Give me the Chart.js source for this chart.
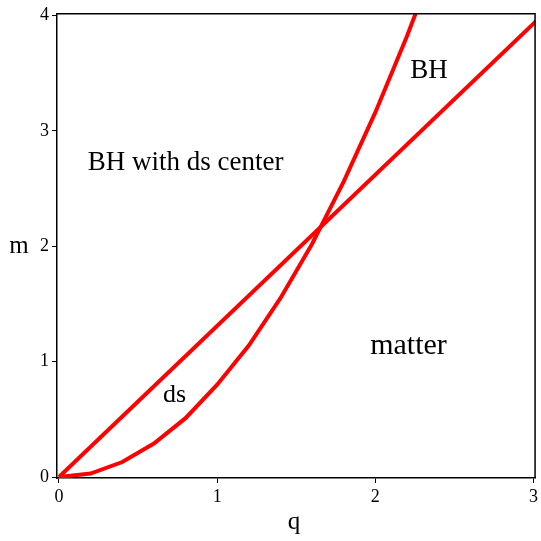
<!DOCTYPE html>
<html>
<head>
<meta charset="utf-8">
<script src="https://cdn.jsdelivr.net/npm/chart.js@4/dist/chart.umd.min.js"></script>
<style>
  html, body { margin: 0; padding: 0; background: #fff; }
  #wrap { width: 541px; height: 541px; }
</style>
</head>
<body>
<div id="wrap"><canvas id="chart"></canvas></div>
<script>
// straight boundary m(q)
const lineQ = [0, 3.1];
const lineM = [0, 4.06];

// curved boundary m(q), sampled every 0.2 in q
const curveQ = [0, 0.2, 0.4, 0.6, 0.8, 1.0, 1.2, 1.4, 1.6, 1.8, 2.0, 2.2, 2.4];
const curveM = [0, 0.03, 0.13, 0.29, 0.51, 0.80, 1.14, 1.55, 2.02, 2.56, 3.16, 3.82, 4.54];

const xTicks = [0, 1, 2, 3];
const yTicks = [0, 1, 2, 3, 4];

// region labels placed in data coordinates (text baseline)
const regionText = ['BH with ds center', 'BH', 'matter', 'ds'];
const regionQ = [0.80, 2.34, 2.21, 0.73];
const regionM = [2.66, 3.46, 1.07, 0.65];
const regionSize = [27, 27, 30, 26];

const serif = '"Liberation Serif", "Times New Roman", serif';
const red = 'rgb(255, 0, 0)';

const toPoints = (xs, ys) => xs.map((x, i) => ({ x: x, y: ys[i] }));

const labelsPlugin = {
    id: 'regionLabels',
    afterDatasetsDraw(chart) {
        const ctx = chart.ctx;
        const area = chart.chartArea;
        const xs = chart.scales.x;
        const ys = chart.scales.y;
        ctx.save();

        // top and right sides of the frame
        ctx.strokeStyle = '#000';
        ctx.lineWidth = 1.5;
        ctx.beginPath();
        ctx.moveTo(area.left, area.top);
        ctx.lineTo(area.right, area.top);
        ctx.lineTo(area.right, area.bottom);
        ctx.stroke();

        ctx.fillStyle = '#000';
        ctx.textAlign = 'center';
        ctx.textBaseline = 'alphabetic';
        regionText.forEach((t, i) => {
            ctx.font = regionSize[i] + 'px ' + serif;
            ctx.fillText(t, xs.getPixelForValue(regionQ[i]), ys.getPixelForValue(regionM[i]));
        });

        // axis titles
        ctx.font = '25px ' + serif;
        ctx.fillText('q', (area.left + area.right) / 2 - 2, 529);
        ctx.fillText('m', 19, 253);
        ctx.restore();
    }
};

new Chart(document.getElementById('chart'), {
    type: 'line',
    data: {
        datasets: [
            {
                label: 'line',
                data: toPoints(lineQ, lineM),
                borderColor: red,
                borderWidth: 4,
                pointRadius: 0,
                tension: 0,
            },
            {
                label: 'curve',
                data: toPoints(curveQ, curveM),
                borderColor: red,
                borderWidth: 4,
                pointRadius: 0,
                tension: 0,
            }
        ]
    },
    options: {
        responsive: true,
        maintainAspectRatio: false,
        animation: false,
        layout: {
            padding: { top: 10, right: 4, left: 0, bottom: 0 }
        },
        plugins: {
            legend: { display: false },
            tooltip: { enabled: false }
        },
        scales: {
            x: {
                type: 'linear',
                min: -0.0126,
                max: 3.01,
                afterBuildTicks: (scale) => {
                    scale.ticks = xTicks.map(v => ({ value: v }));
                },
                afterFit: (scale) => {
                    scale.height = 63;
                },
                grid: {
                    drawOnChartArea: false,
                    drawTicks: true,
                    tickLength: 5,
                    color: '#000',
                    lineWidth: 1
                },
                border: { display: true, color: '#000', width: 1.5 },
                ticks: {
                    color: '#000',
                    padding: 3,
                    maxRotation: 0,
                    font: { family: serif, size: 18 }
                }
            },
            y: {
                type: 'linear',
                min: -0.0086,
                max: 4.015,
                afterBuildTicks: (scale) => {
                    scale.ticks = yTicks.map(v => ({ value: v }));
                },
                afterFit: (scale) => {
                    scale.width = 57;
                },
                grid: {
                    drawOnChartArea: false,
                    drawTicks: true,
                    tickLength: 5,
                    color: '#000',
                    lineWidth: 1
                },
                border: { display: true, color: '#000', width: 1.5 },
                ticks: {
                    color: '#000',
                    padding: 3,
                    font: { family: serif, size: 18 }
                }
            }
        }
    },
    plugins: [labelsPlugin]
});
</script>
</body>
</html>
